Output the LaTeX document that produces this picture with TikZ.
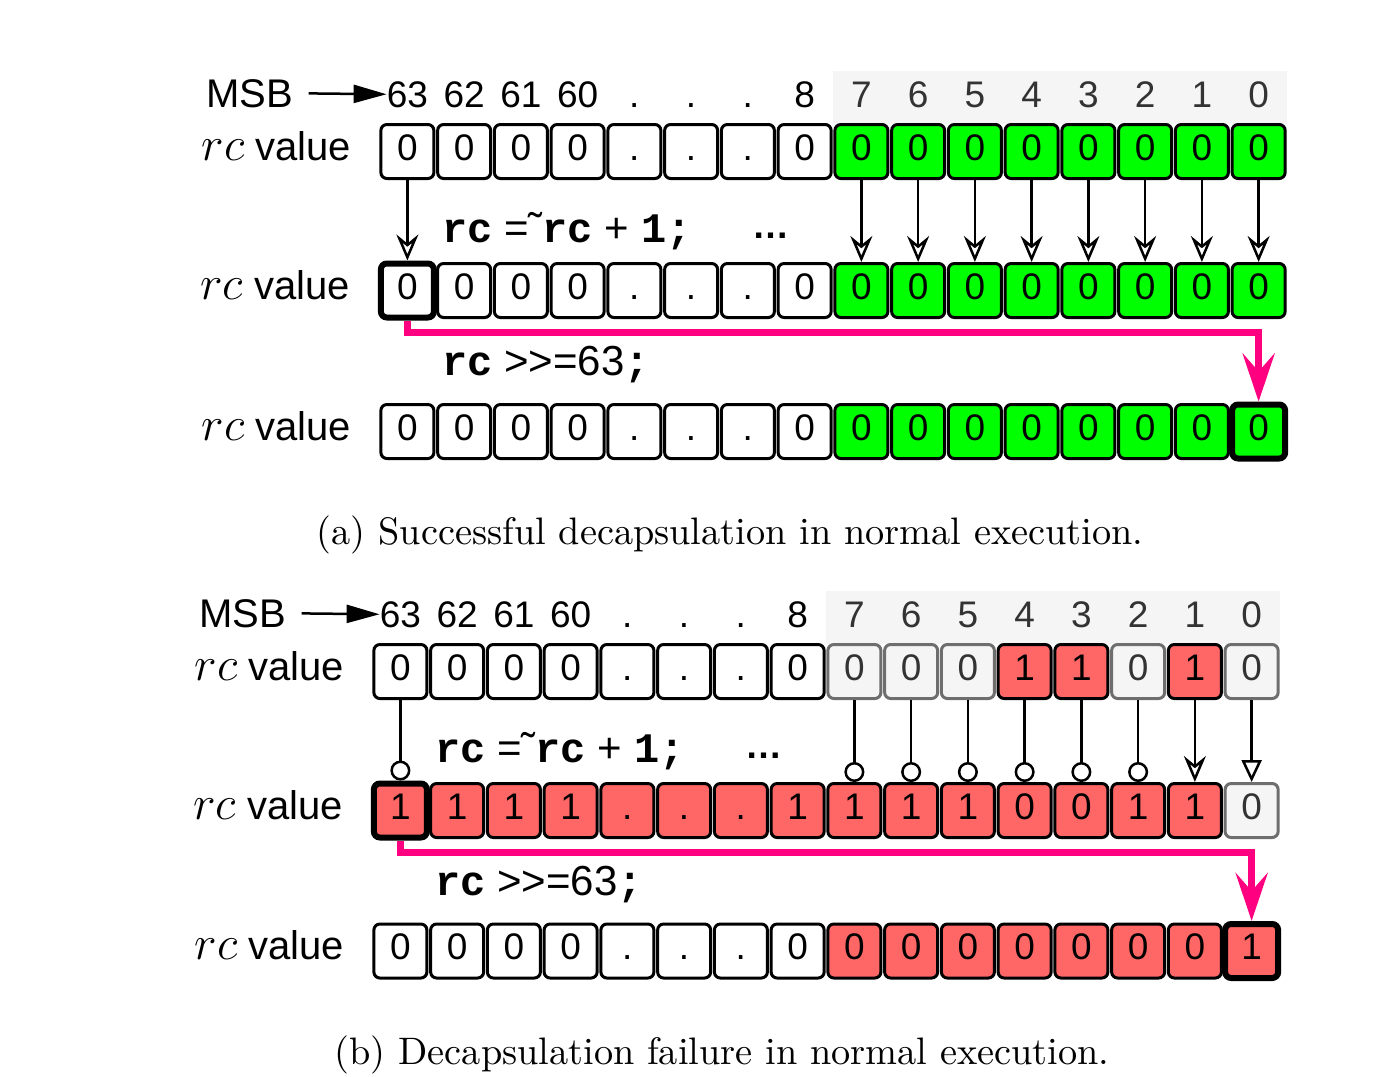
\RequirePackage{fix-cm}
\documentclass[tikz,border=0pt]{standalone}
\usepackage{fontspec}
\setsansfont{Liberation Sans}
\setmonofont{Liberation Mono}
\newfontfamily\capfont{lmroman10-regular.otf}
\usepackage{xcolor}
\usepackage{tikz}
\usetikzlibrary{arrows.meta, positioning}

\definecolor{bitgreen}{HTML}{00FF00}
\definecolor{bitred}{HTML}{FF6666}
\definecolor{bitgray}{HTML}{F5F5F5}
\definecolor{bitedge}{HTML}{6E6E6E}
\definecolor{bittext}{HTML}{333333}
\definecolor{shiftpink}{HTML}{FF0080}

\newcommand{\cbf}[1]{{\ttfamily\bfseries #1}}

\begin{document}
\begin{tikzpicture}[x=1pt, y=-1pt,
    font=\sffamily\fontsize{37}{40}\selectfont,
    cell/.style={draw, rounded corners=6pt, line width=3pt,
        minimum width=53pt, minimum height=54pt, inner sep=0pt,
        text height=26.5pt, text depth=9.5pt},
    cw/.style={cell, fill=white},
    cg/.style={cell, fill=bitgreen},
    cr/.style={cell, fill=bitred},
    cn/.style={cell, fill=bitgray, draw=bitedge, text=bittext},
    cwk/.style={cw, line width=6pt},
    cgk/.style={cg, line width=6pt},
    crk/.style={cr, line width=6pt},
    head/.style={inner sep=0pt, anchor=base},
    lbl/.style={inner sep=0pt, anchor=base east, font=\sffamily\fontsize{40}{42}\selectfont},
    code/.style={inner sep=0pt, anchor=base west, font=\sffamily\fontsize{42}{44}\selectfont},
    flip/.style={line width=2.5pt, -{Stealth[open, length=26pt, width=22pt, inset=9pt]}},
    flipo/.style={line width=2.5pt, -{Circle[open, length=20pt]}},
    flipt/.style={line width=2.5pt, -{Triangle[open, length=22pt, width=20pt]}},
    shiftline/.style={draw=shiftpink, line width=7pt,
        -{Stealth[length=48pt, width=32pt, inset=18pt, fill=shiftpink]}},
    msbarrow/.style={line width=2.5pt, shorten <=15pt, -{Triangle[length=33pt, width=18pt]}},
    caption/.style={font=\capfont\fontsize{38.3}{42}\selectfont}
]

    \useasboundingbox (0,0) rectangle (1386,1076);

    % =================================================================
    % 1. MACROS: HEADER OF BIT INDICES AND ONE ROW OF BITS
    % =================================================================
    % #1: name, #2: left edge, #3: baseline of the indices
    \newcommand{\bitheader}[3]{
        \fill[bitgray] ({#2+56.75*8}, #3-36) rectangle ({#2+56.75*16}, #3+17);
        \foreach \c/\v [count=\i] in {black/63, black/62, black/61, black/60,
            black/., black/., black/., black/8, bittext/7, bittext/6, bittext/5,
            bittext/4, bittext/3, bittext/2, bittext/1, bittext/0}
            \node[head, text=\c] (#1-\i) at ({#2+56.75*(\i-0.5)}, #3) {\v};
    }
    % #1: name, #2: left edge, #3: centre line, #4: list of style/value
    \newcommand{\bitrow}[4]{
        \foreach \s/\v [count=\i] in {#4}
            \node[\s] (#1-\i) at ({#2+56.75*(\i-0.5)}, #3) {\v};
    }
    \newcommand{\rcval}{{\fontsize{48}{48}\selectfont$rc$} value}

    % =================================================================
    % 2. (a) SUCCESSFUL DECAPSULATION
    % =================================================================
    \bitheader{ha}{379}{107}
    \node[head, font=\sffamily\fontsize{40}{42}\selectfont] (msbA) at (250,107) {MSB};
    \draw[msbarrow] (msbA.east) -- (ha-1.west);

    \bitrow{a1}{379}{151.5}{cw/0, cw/0, cw/0, cw/0, cw/., cw/., cw/., cw/0,
        cg/0, cg/0, cg/0, cg/0, cg/0, cg/0, cg/0, cg/0}
    \bitrow{a2}{379}{290.5}{cwk/0, cw/0, cw/0, cw/0, cw/., cw/., cw/., cw/0,
        cg/0, cg/0, cg/0, cg/0, cg/0, cg/0, cg/0, cg/0}
    \bitrow{a3}{379}{431.5}{cw/0, cw/0, cw/0, cw/0, cw/., cw/., cw/., cw/0,
        cg/0, cg/0, cg/0, cg/0, cg/0, cg/0, cg/0, cgk/0}

    \node[lbl] (la1) at ([xshift=-28pt]a1-1.base west) {\rcval};
    \node[lbl] (la2) at ([xshift=-28pt]a2-1.base west) {\rcval};
    \node[lbl] (la3) at ([xshift=-28pt]a3-1.base west) {\rcval};

    % ~rc + 1 keeps the low bits
    \foreach \i in {1,9,10,...,16}
        \draw[flip] (a1-\i.south) -- (a2-\i.north);
    \node[code] (opA1) at (442,242) {\cbf{rc} =˜\cbf{rc} + \cbf{1;}};
    \node[code, font=\sffamily\bfseries\fontsize{37}{40}\selectfont] (dotsA) at (752,238) {…};

    % shift of the MSB down to bit 0
    \draw[shiftline] (a2-1.south) -- ++(0,12) -| (a3-16.north);
    \node[code] (opA2) at (442,375) {\cbf{rc} >\kern0pt>=63\cbf{;}};

    \node[caption] (capA) at (730,535) {(a) Successful decapsulation in normal execution.};

    % =================================================================
    % 3. (b) DECAPSULATION FAILURE
    % =================================================================
    \bitheader{hb}{372}{627}
    \node[head, font=\sffamily\fontsize{40}{42}\selectfont] (msbB) at (243,627) {MSB};
    \draw[msbarrow] (msbB.east) -- (hb-1.west);

    \bitrow{b1}{372}{671.5}{cw/0, cw/0, cw/0, cw/0, cw/., cw/., cw/., cw/0,
        cn/0, cn/0, cn/0, cr/1, cr/1, cn/0, cr/1, cn/0}
    \bitrow{b2}{372}{810.5}{crk/1, cr/1, cr/1, cr/1, cr/., cr/., cr/., cr/1,
        cr/1, cr/1, cr/1, cr/0, cr/0, cr/1, cr/1, cn/0}
    \bitrow{b3}{372}{951}{cw/0, cw/0, cw/0, cw/0, cw/., cw/., cw/., cw/0,
        cr/0, cr/0, cr/0, cr/0, cr/0, cr/0, cr/0, crk/1}

    \node[lbl] (lb1) at ([xshift=-28pt]b1-1.base west) {\rcval};
    \node[lbl] (lb2) at ([xshift=-28pt]b2-1.base west) {\rcval};
    \node[lbl] (lb3) at ([xshift=-28pt]b3-1.base west) {\rcval};

    % flipped bits end in a circle, kept bits in an arrow
    \foreach \i in {1,9,10,...,14}
        \draw[flipo] (b1-\i.south) -- (b2-\i.north);
    \draw[flip] (b1-15.south) -- (b2-15.north);
    \draw[flipt] (b1-16.south) -- (b2-16.north);
    \node[code] (opB1) at (435,762) {\cbf{rc} =˜\cbf{rc} + \cbf{1;}};
    \node[code, font=\sffamily\bfseries\fontsize{37}{40}\selectfont] (dotsB) at (745,758) {…};

    \draw[shiftline] (b2-1.south) -- ++(0,12) -| (b3-16.north);
    \node[code] (opB2) at (435,895) {\cbf{rc} >\kern0pt>=63\cbf{;}};

    \node[caption] (capB) at (722,1055) {(b) Decapsulation failure in normal execution.};

\end{tikzpicture}
\end{document}
